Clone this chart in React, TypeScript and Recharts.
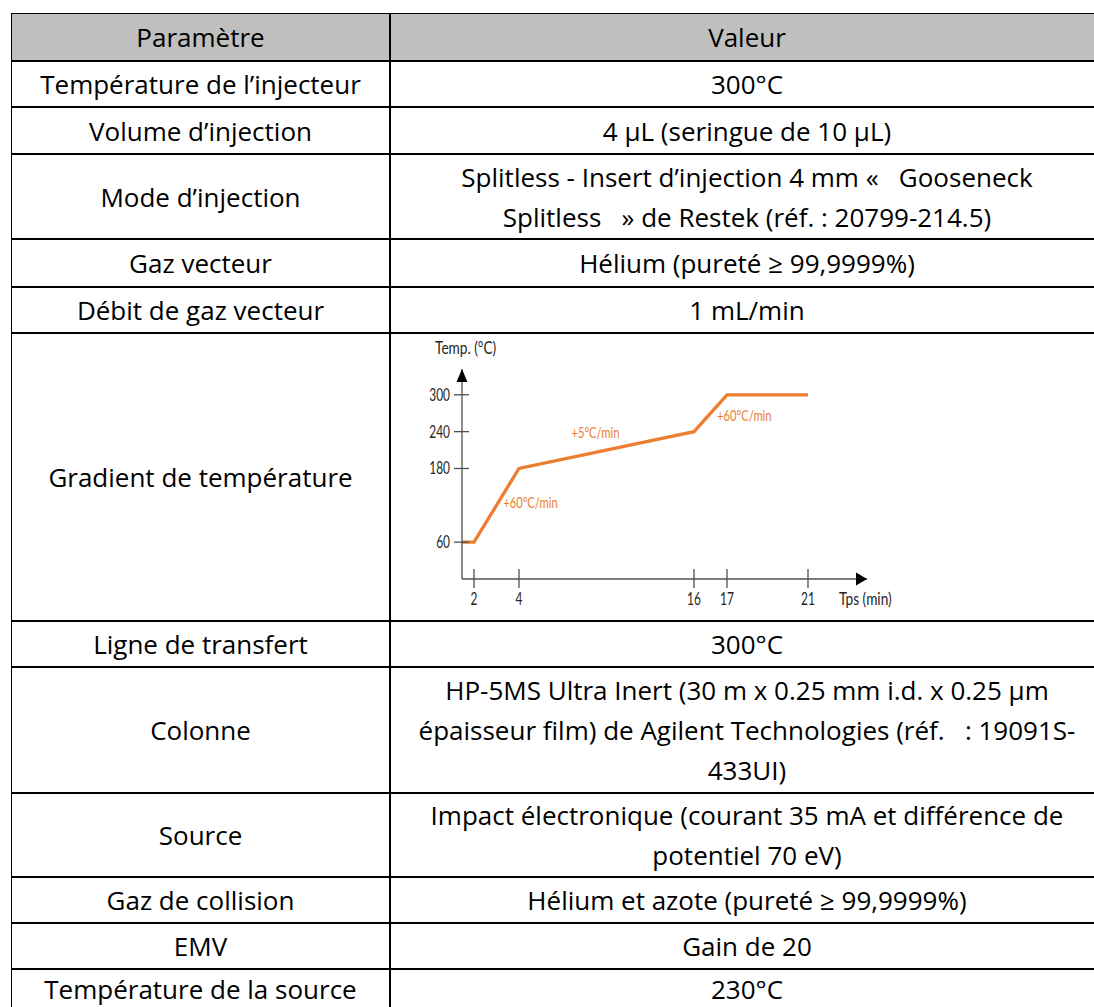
import React from 'react';
import { LineChart, Line, XAxis, YAxis, ReferenceDot } from 'recharts';

// ---------- table content ----------
const HEADERS = ['Paramètre', 'Valeur'];
const PARAMETERS = [
  'Température de l’injecteur',
  'Volume d’injection',
  'Mode d’injection',
  'Gaz vecteur',
  'Débit de gaz vecteur',
  'Gradient de température',
  'Ligne de transfert',
  'Colonne',
  'Source',
  'Gaz de collision',
  'EMV',
  'Température de la source',
];
const VALUES: (string[] | null)[] = [
  ['300°C'],
  ['4 µL (seringue de 10 µL)'],
  ['Splitless - Insert d’injection 4 mm «   Gooseneck', 'Splitless   » de Restek (réf. : 20799-214.5)'],
  ['Hélium (pureté ≥ 99,9999%)'],
  ['1 mL/min'],
  null,
  ['300°C'],
  ['HP-5MS Ultra Inert (30 m x 0.25 mm i.d. x 0.25 µm', 'épaisseur film) de Agilent Technologies (réf.   : 19091S-', '433UI)'],
  ['Impact électronique (courant 35 mA et différence de', 'potentiel 70 eV)'],
  ['Hélium et azote (pureté ≥ 99,9999%)'],
  ['Gain de 20'],
  ['230°C'],
];

// ---------- chart data ----------
const TIME_MIN = [0, 2, 4, 16, 17, 21];
const TEMP_C = [60, 60, 180, 240, 300, 300];
const X_TICKS = [2, 4, 16, 17, 21];
const Y_TICKS = [60, 180, 240, 300];
const RATE_LABELS = ['+60°C/min', '+5°C/min', '+60°C/min'];
const RATE_LABEL_TIME = [3.3, 7.6, 16.7];
const RATE_LABEL_TEMP = [124, 238, 265];
const X_TITLE = 'Tps (min)';
const Y_TITLE = 'Temp. (°C)';

const chartData = TIME_MIN.map((t, i) => ({ t, temp: TEMP_C[i] }));

// ---------- layout / style ----------
const ROW_HEIGHTS = [48, 46, 47, 85, 48, 46, 288, 46, 126, 84, 46, 46, 40];
const TABLE_TOP = 13;
const TABLE_LEFT = 11;
const COL_SPLIT = 390;
const TABLE_RIGHT = 1104;
const FONT = '"Open Sans", Lato, sans-serif';
const CHART_FONT = 'Lato, "Open Sans", sans-serif';
const ORANGE = '#ED7D31';
const AXIS = '#505050';
const TXT = '#262626';

// schematic (non-uniform) time axis used by the original figure
const X_SCALE_STOPS = [0, 2, 4, 16, 17, 21, 24];
const X_SCALE_FRACTIONS = [0, 0.0296, 0.1407, 0.5728, 0.6543, 0.8543, 1];

function piecewiseScale(stops: number[], fracs: number[]): any {
  let dom: any[] = [stops[0], stops[stops.length - 1]];
  let rng: number[] = [0, 1];
  const toFrac = (v: number) => {
    if (v <= stops[0]) return fracs[0];
    for (let i = 1; i < stops.length; i++) {
      if (v <= stops[i]) {
        const k = (v - stops[i - 1]) / (stops[i] - stops[i - 1]);
        return fracs[i - 1] + k * (fracs[i] - fracs[i - 1]);
      }
    }
    return fracs[fracs.length - 1];
  };
  const s: any = (v: any) => rng[0] + toFrac(Number(v)) * (rng[1] - rng[0]);
  s.domain = (d?: any[]) => {
    if (d === undefined) return dom;
    dom = d;
    return s;
  };
  s.range = (r?: number[]) => {
    if (r === undefined) return rng;
    rng = r;
    return s;
  };
  s.copy = () => piecewiseScale(stops, fracs).domain(dom).range(rng);
  s.ticks = () => stops.slice();
  s.invert = (px: number) => {
    const f = (px - rng[0]) / (rng[1] - rng[0]);
    for (let i = 1; i < fracs.length; i++) {
      if (f <= fracs[i]) {
        const k = (f - fracs[i - 1]) / (fracs[i] - fracs[i - 1]);
        return stops[i - 1] + k * (stops[i] - stops[i - 1]);
      }
    }
    return stops[stops.length - 1];
  };
  s.clamp = () => s;
  s.nice = () => s;
  return s;
}
const xScale = piecewiseScale(X_SCALE_STOPS, X_SCALE_FRACTIONS);

const CondText = ({ x, y, anchor, size, fill, sx = 0.7, children }: any) => (
  <text
    transform={`translate(${x},${y}) scale(${sx},1)`}
    textAnchor={anchor}
    fontFamily={CHART_FONT}
    fontSize={size}
    fill={fill}
  >
    {children}
  </text>
);

const Y_TICK_SIZE = 8;
const Y_TICK_MARGIN = 4;
const YTick = (props: any) => {
  const { x, y, payload } = props;
  const axisX = x + Y_TICK_SIZE + Y_TICK_MARGIN;
  return (
    <g>
      <line x1={axisX - 8} x2={axisX + 7} y1={y} y2={y} stroke={AXIS} strokeWidth={1.3} />
      <CondText x={axisX - 12} y={y + 6} anchor="end" size={17} fill={TXT}>
        {payload.value}
      </CondText>
    </g>
  );
};

const X_TICK_SIZE = 9;
const X_TICK_MARGIN = 2;
const XTick = (props: any) => {
  const { x, y, payload } = props;
  const axisY = y - X_TICK_SIZE - X_TICK_MARGIN;
  return (
    <g>
      <line x1={x} x2={x} y1={axisY - 10} y2={axisY + 9} stroke={AXIS} strokeWidth={1.3} />
      <CondText x={x} y={axisY + 26} anchor="middle" size={17} fill={TXT}>
        {payload.value}
      </CondText>
    </g>
  );
};

const UpArrow = (props: any) => {
  const { cx, cy } = props;
  return <path d={`M${cx},${cy} L${cx + 5.5},${cy + 13} L${cx - 5.5},${cy + 13} Z`} fill="#000" />;
};
const RightArrow = (props: any) => {
  const { cx, cy } = props;
  return <path d={`M${cx},${cy} L${cx - 11},${cy - 6.5} L${cx - 11},${cy + 6.5} Z`} fill="#000" />;
};

const makeRateLabel = (text: string) => (props: any) => {
  const { cx, cy } = props;
  return (
    <CondText x={cx} y={cy + 5} anchor="start" size={16} fill={ORANGE}>
      {text}
    </CondText>
  );
};

const yTitle = (props: any) => {
  const vb = props.viewBox || {};
  return (
    <CondText x={vb.x + vb.width - 27} y={vb.y - 15} anchor="start" size={17.5} sx={0.78} fill={TXT}>
      {Y_TITLE}
    </CondText>
  );
};
const xTitle = (props: any) => {
  const vb = props.viewBox || {};
  return (
    <CondText x={vb.x + vb.width - 28} y={vb.y + 26} anchor="start" size={17.5} sx={0.78} fill={TXT}>
      {X_TITLE}
    </CondText>
  );
};

const X_MAX = 24;
const Y_MAX = 342;

const GradientChart = () => (
  <LineChart width={480} height={286} data={chartData} margin={{ top: 35, right: 35, bottom: 40, left: 39 }}>
    <XAxis
      dataKey="t"
      type="number"
      scale={xScale}
      domain={[0, X_MAX]}
      ticks={X_TICKS}
      height={1}
      tickSize={X_TICK_SIZE}
      tickMargin={X_TICK_MARGIN}
      tickLine={false}
      tick={XTick}
      axisLine={{ stroke: AXIS, strokeWidth: 1.3 }}
      interval={0}
      label={xTitle}
    />
    <YAxis
      type="number"
      domain={[0, Y_MAX]}
      ticks={Y_TICKS}
      width={1}
      tickSize={Y_TICK_SIZE}
      tickMargin={Y_TICK_MARGIN}
      tickLine={false}
      tick={YTick}
      axisLine={{ stroke: AXIS, strokeWidth: 1.3 }}
      interval={0}
      label={yTitle}
    />
    <Line
      dataKey="temp"
      type="linear"
      stroke={ORANGE}
      strokeWidth={3.3}
      dot={false}
      isAnimationActive={false}
      strokeLinejoin="miter"
    />
    <ReferenceDot x={0} y={Y_MAX} r={0} ifOverflow="visible" shape={UpArrow} />
    <ReferenceDot x={X_MAX} y={0} r={0} ifOverflow="visible" shape={RightArrow} />
    {RATE_LABELS.map((txt, i) => (
      <ReferenceDot
        key={i}
        x={RATE_LABEL_TIME[i]}
        y={RATE_LABEL_TEMP[i]}
        r={0}
        ifOverflow="visible"
        shape={makeRateLabel(txt)}
      />
    ))}
  </LineChart>
);

export default function App() {
  const rowTops: number[] = [];
  let acc = TABLE_TOP;
  ROW_HEIGHTS.forEach((h) => {
    rowTops.push(acc);
    acc += h;
  });
  const rows = [HEADERS[0], ...PARAMETERS].map((p, i) => ({
    param: [p],
    value: i === 0 ? [HEADERS[1]] : VALUES[i - 1],
    top: rowTops[i],
    height: ROW_HEIGHTS[i],
  }));

  const cellStyle = (left: number, width: number, top: number, height: number): React.CSSProperties => ({
    position: 'absolute',
    left,
    width,
    top,
    height,
    display: 'flex',
    flexDirection: 'column',
    justifyContent: 'center',
    alignItems: 'center',
    fontFamily: FONT,
    fontSize: 26,
    lineHeight: '40px',
    color: '#000',
    whiteSpace: 'pre',
  });

  return (
    <div
      style={{
        position: 'fixed',
        left: 0,
        top: 0,
        width: 1094,
        height: 1007,
        overflow: 'hidden',
        background: '#fff',
      }}
    >
      {/* header background */}
      <div
        style={{
          position: 'absolute',
          left: TABLE_LEFT,
          top: TABLE_TOP,
          width: TABLE_RIGHT - TABLE_LEFT,
          height: ROW_HEIGHTS[0],
          background: '#BFBFBF',
        }}
      />
      {rows.map((r, i) => (
        <React.Fragment key={i}>
          <div style={cellStyle(TABLE_LEFT, COL_SPLIT - TABLE_LEFT, r.top, r.height)}>
            {r.param.map((l, k) => (
              <div key={k}>{l}</div>
            ))}
          </div>
          {r.value ? (
            <div style={cellStyle(COL_SPLIT, TABLE_RIGHT - COL_SPLIT, r.top, r.height)}>
              {r.value.map((l, k) => (
                <div key={k}>{l}</div>
              ))}
            </div>
          ) : null}
        </React.Fragment>
      ))}
      {/* horizontal rules */}
      {rowTops.map((t, i) => (
        <div
          key={'h' + i}
          style={{
            position: 'absolute',
            left: TABLE_LEFT,
            width: TABLE_RIGHT - TABLE_LEFT,
            top: i === 0 ? t : t - 1,
            height: i === 0 ? 1 : 2,
            background: '#000',
          }}
        />
      ))}
      {/* vertical rules */}
      <div style={{ position: 'absolute', left: TABLE_LEFT, top: TABLE_TOP, width: 1, height: 1007, background: '#000' }} />
      <div style={{ position: 'absolute', left: COL_SPLIT - 1, top: TABLE_TOP, width: 2, height: 1007, background: '#000' }} />
      {/* chart cell */}
      <div
        style={{
          position: 'absolute',
          left: 422,
          top: rowTops[6] + 1,
          width: 480,
          height: 286,
          background: '#fff',
        }}
      >
        <GradientChart />
      </div>
    </div>
  );
}
